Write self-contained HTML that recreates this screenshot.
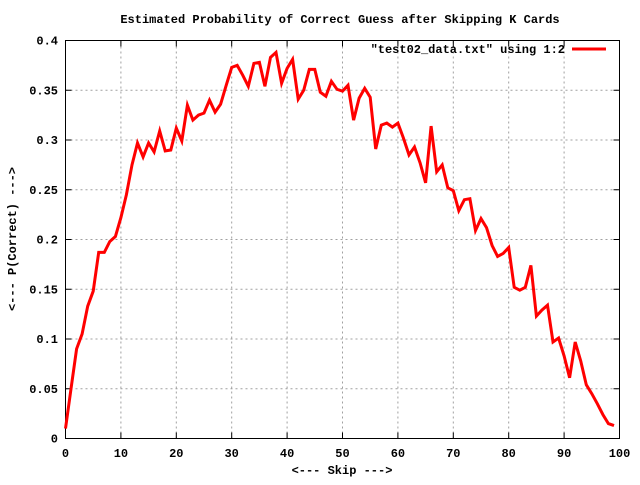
<!DOCTYPE html>
<html><head><meta charset="utf-8"><style>
body{margin:0;background:#fff}
text{font-family:"Liberation Mono",monospace;font-size:12px;font-weight:bold;fill:#000}
</style></head><body>
<svg id="chart" width="640" height="480" xmlns="http://www.w3.org/2000/svg">
<rect width="640" height="480" fill="#fff"/>
<g id="grid"></g>
<g id="ticks"></g>
<rect x="65.5" y="40.5" width="554" height="398" fill="none" stroke="#000" stroke-width="1"/>
<text x="340" y="23" text-anchor="middle">Estimated Probability of Correct Guess after Skipping K Cards</text>
<text x="342" y="474" text-anchor="middle">&lt;--- Skip ---&gt;</text>
<text transform="translate(16,239) rotate(-90)" text-anchor="middle">&lt;--- P(Correct) ---&gt;</text>
<g>
<text x="565" y="53" text-anchor="end">"test02_data.txt" using 1:2</text>
<line x1="572" y1="49" x2="606" y2="49" stroke="#f00" stroke-width="3"/>
</g>
<path id="series" fill="none" stroke="#f00" stroke-width="3" stroke-linejoin="miter"/>
</svg>
<script>
const xTicks=[0,10,20,30,40,50,60,70,80,90,100];
const yTicks=[0,0.05,0.1,0.15,0.2,0.25,0.3,0.35,0.4];
const yTickLabels=["0","0.05","0.1","0.15","0.2","0.25","0.3","0.35","0.4"];
const values=[0.01,0.05,0.09,0.105,0.133,0.148,0.187,0.187,0.198,0.203,0.222,0.245,0.275,0.297,0.283,0.297,0.288,0.309,0.289,0.29,0.312,0.299,0.335,0.32,0.325,0.327,0.34,0.328,0.336,0.355,0.373,0.375,0.365,0.354,0.377,0.378,0.354,0.383,0.388,0.357,0.372,0.381,0.341,0.35,0.371,0.371,0.348,0.344,0.359,0.351,0.349,0.355,0.32,0.342,0.352,0.343,0.291,0.315,0.317,0.313,0.317,0.302,0.285,0.293,0.277,0.257,0.314,0.268,0.275,0.252,0.249,0.229,0.24,0.241,0.209,0.221,0.212,0.194,0.183,0.186,0.192,0.152,0.149,0.152,0.174,0.123,0.129,0.134,0.097,0.101,0.083,0.061,0.097,0.078,0.054,0.045,0.035,0.024,0.015,0.013];
const X0=65.5,X1=619.5,Y0=438.5,Y1=40.5;
const sx=v=>X0+(X1-X0)*v/100;
const sy=v=>Y0-(Y0-Y1)*v/0.4;
const NS="http://www.w3.org/2000/svg";
const grid=document.getElementById('grid'),ticks=document.getElementById('ticks');
function mk(tag,attrs,parent){const e=document.createElementNS(NS,tag);for(const k in attrs)e.setAttribute(k,attrs[k]);parent.appendChild(e);return e;}
xTicks.forEach(t=>{const x=sx(t);
 if(t>0&&t<100){const g=mk('line',{x1:x,y1:Y0,x2:x,y2:Y1,stroke:'#a0a0a0','stroke-dasharray':'2,3'},grid);
 
 }
 const tk=mk('path',{d:`M${x},${Y0}v-6M${x},${Y1}v6`,stroke:'#000'},ticks);
 
 
 const l=mk('text',{x:x,y:457,'text-anchor':'middle'},ticks);l.textContent=t;
 
 
});
yTicks.forEach((t,i)=>{const y=sy(t);
 if(t>0&&t<0.4){const g=mk('line',{x1:X0,y1:y,x2:X1,y2:y,stroke:'#a0a0a0','stroke-dasharray':'2,3'},grid);
 
 }
 const tk=mk('path',{d:`M${X0},${y}h6M${X1},${y}h-6`,stroke:'#000'},ticks);
 
 
 const l=mk('text',{x:58,y:y+4,'text-anchor':'end'},ticks);l.textContent=yTickLabels[i];
 
 
});
document.getElementById('series').setAttribute('d',values.map((v,i)=>(i?'L':'M')+sx(i).toFixed(1)+','+sy(v).toFixed(1)).join(''));
</script>
</body></html>
